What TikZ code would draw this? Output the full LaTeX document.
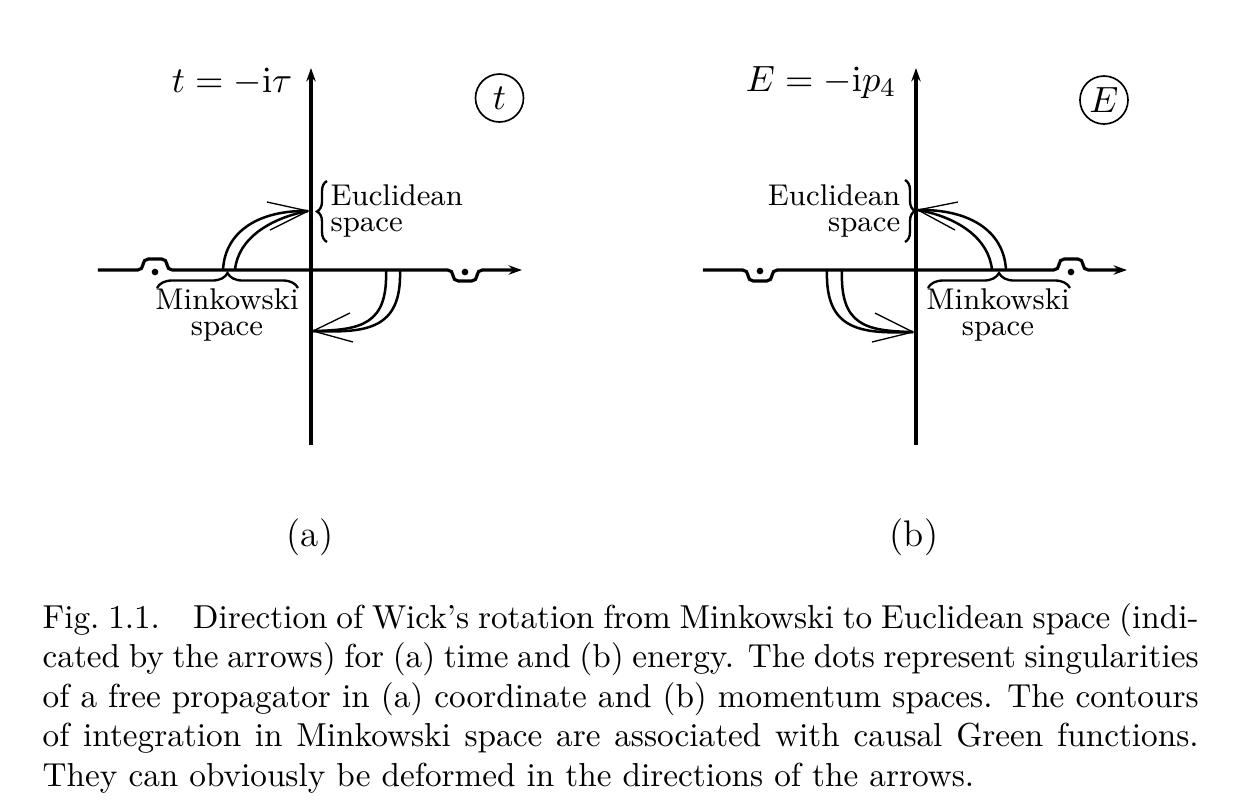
\documentclass[tikz,border=0pt]{standalone}
\usepackage{amsmath}
\usetikzlibrary{decorations.pathreplacing,arrows.meta}
\tikzstyle{axisline}=[line width=0.95pt,-{Stealth[length=4pt,width=2.8pt]}]
\tikzstyle{contour}=[rounded corners=1.6pt]
\tikzstyle{wickline}=[line width=0.75pt]
\tikzstyle{wickhead}=[line width=0.4pt]
\tikzstyle{minkbrace}=[decorate,decoration={brace,amplitude=4.5pt},line width=0.7pt]
\tikzstyle{euclbrace}=[decorate,decoration={brace,amplitude=3pt},line width=0.7pt]
\tikzstyle{spacelabel}=[inner sep=0pt,font=\fontsize{9}{7.8}\selectfont]
\tikzstyle{mathlabel}=[inner sep=0pt,font=\fontsize{11.1}{13}\selectfont]
\tikzstyle{planelabel}=[draw,circle,line width=0.5pt,minimum size=14.4pt,inner sep=0pt,font=\fontsize{11.1}{13}\selectfont]
\tikzstyle{captionline}=[anchor=base west,inner sep=0pt,font=\fontsize{9.97}{11.85}\selectfont]
\newcommand{\bumpat}[2]{-- ({#1-12},0) -- ({#1-12},#2) -- ({#1+12},#2) -- ({#1+12},0)}
\newcommand{\captionrow}[2]{\node[captionline] at (42,{-628-39.5*#1}) {\makebox[346.8pt][s]{#2}};}

\begin{document}
\begin{tikzpicture}[x=0.3pt,y=0.3pt]
	\useasboundingbox (0,0) rectangle (1239,-809);
	% (a) the t plane
	\begin{scope}[shift={(311,-270)}]
	\draw[axisline] (0,-175) -- (0,202);
	\draw[axisline,contour] (-213,0) \bumpat{-156}{11} \bumpat{154}{-11} -- (211,0);
	\fill (-156,-2) circle (1pt);
	\fill (154,-2) circle (1pt);
	\coordinate (euclA) at (-3,59);
	\coordinate (minkA) at (2,-61);
	\draw[wickline] (-88,0) .. controls (-86,40) and (-50,60) .. (euclA);
	\draw[wickline] (-76,0) .. controls (-73,32) and (-40,52) .. (euclA);
	\draw[wickhead] (-44,68) -- (euclA) -- (-41,40);
	\draw[wickline] (89,0) .. controls (91,-60) and (55,-63) .. (minkA);
	\draw[wickline] (75,0) .. controls (77,-55) and (50,-60) .. (minkA);
	\draw[wickhead] (39,-43) -- (minkA) -- (42,-72);
	\draw[minkbrace] (-154,-18) -- (-13,-18);
	\draw[euclbrace] (16,28) -- (16,89);
	\node[spacelabel,align=left,anchor=west] (euclAtext) at (19,59) {Euclidean\\space};
	\node[spacelabel,align=center] (minkAtext) at (-84,-45) {Minkowski\\space};
	\node[mathlabel,anchor=base east] (tlabel) at (-18,178) {$t=-\mathrm{i}\tau$};
	\node[planelabel] (tplane) at (188.5,172) {$t$};
	\end{scope}
	% (b) the E plane
	\begin{scope}[shift={(916,-270)}]
	\draw[axisline] (0,-175) -- (0,202);
	\draw[axisline,contour] (-213,0) \bumpat{-156}{-11} \bumpat{155}{11} -- (211,0);
	\fill (-156,-1) circle (1pt);
	\fill (155,-2) circle (1pt);
	\coordinate (euclB) at (2,60);
	\coordinate (minkB) at (-3,-62);
	\draw[wickline] (90,0) .. controls (88,40) and (52,61) .. (euclB);
	\draw[wickline] (76,0) .. controls (73,32) and (41,53) .. (euclB);
	\draw[wickhead] (42,68) -- (euclB) -- (39,40);
	\draw[wickline] (-89,0) .. controls (-91,-60) and (-56,-64) .. (minkB);
	\draw[wickline] (-74,0) .. controls (-76,-55) and (-51,-61) .. (minkB);
	\draw[wickhead] (-41,-43) -- (minkB) -- (-44,-72);
	\draw[minkbrace] (12,-18) -- (154,-18);
	\draw[euclbrace] (-11,90) -- (-11,28);
	\node[spacelabel,align=right,anchor=east] (euclBtext) at (-15,59) {Euclidean\\space};
	\node[spacelabel,align=center] (minkBtext) at (82,-45) {Minkowski\\space};
	\node[mathlabel,anchor=base east] (Elabel) at (-19,179) {$E=-\mathrm{i}p_4$};
	\node[planelabel] (Eplane) at (188,170) {$E$};
	\end{scope}
	\node[mathlabel] (parta) at (310,-537) {(a)};
	\node[mathlabel] (partb) at (914,-537) {(b)};
	% caption
	\captionrow{0}{Fig.~1.1.\quad Direction of Wick's rotation from Minkowski to Euclidean space (indi-}
	\captionrow{1}{cated by the arrows) for (a) time and (b) energy. The dots represent singularities}
	\captionrow{2}{of a free propagator in (a) coordinate and (b) momentum spaces. The contours}
	\captionrow{3}{of integration in Minkowski space are associated with causal Green functions.}
	\node[captionline] (lastrow) at (42,{-628-39.5*4}) {They can obviously be deformed in the directions of the arrows.};
\end{tikzpicture}
\end{document}
